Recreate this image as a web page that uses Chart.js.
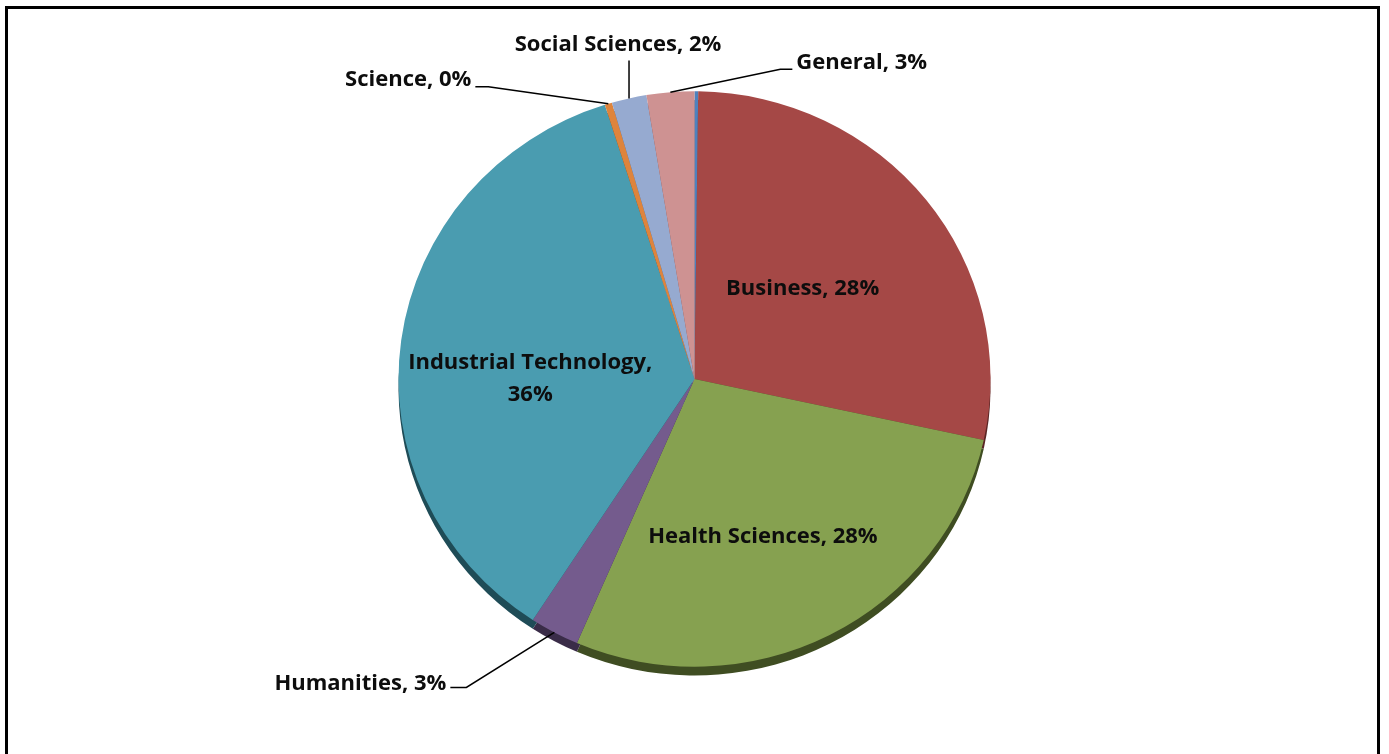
<!DOCTYPE html>
<html>
<head>
<meta charset="utf-8">
<script src="https://cdn.jsdelivr.net/npm/chart.js@4/dist/chart.umd.min.js"></script>
<style>
  html, body { margin: 0; padding: 0; background: #fff; }
  #wrap { position: relative; width: 1389px; height: 754px; overflow: hidden; }
  #frame { position: absolute; left: 5px; top: 6px; width: 1375px; height: 800px; border: 3px solid #000; box-sizing: border-box; }
  canvas { position: absolute; left: 0; top: 0; }
</style>
</head>
<body>
<div id="wrap">
  <div id="frame"></div>
  <canvas id="c" width="1389" height="754"></canvas>
</div>
<script>
const categories = ['Other', 'Business', 'Health Sciences', 'Humanities', 'Industrial Technology', 'Science', 'Social Sciences', 'General'];
const values = [0.2, 28.2, 28.1, 2.7, 35.9, 0.4, 1.9, 2.6];
const colors = ['#4F81BD', '#A54846', '#86A150', '#745B8D', '#4A9CB0', '#DE843C', '#96AAD0', '#CE9292'];
const shadeColors = ['#2c4a6e', '#5a2524', '#3f4d22', '#3a2c48', '#1f4c57', '#7a4a20', '#55607a', '#7a5454'];

// vertical squash of the pie (slightly elliptical, like the original tilted pie)
const squashY = 0.972;

// label layout: inside labels (frac along radius) and outside labels with leader lines
const labelLayout = {
  1: { type: 'in', frac: 0.48, dx: -3, dy: -4 },
  2: { type: 'in', frac: 0.58, dx: -10, dy: 9 },
  4: { type: 'in', frac: 0.56, dx: 0, dy: 21, lines: true },
  3: { type: 'out', path: [[-88, 55], [-104, 55]], align: 'right', tdy: -4 },
  5: { type: 'out', path: [[-120, -17], [-133, -17]], align: 'right', tdy: -7 },
  6: { type: 'out', path: [[0, -38]], align: 'center', tdx: -11, tdy: -16 },
  7: { type: 'out', path: [[110, -23], [122, -23]], align: 'left', tdy: -7 }
};

function pctText(i) {
  return Math.round(values[i]) + '%';
}

const shadowPlugin = {
  id: 'shadow3d',
  beforeDatasetsDraw(chart) {
    const ctx = chart.ctx;
    const meta = chart.getDatasetMeta(0);
    const a0 = meta.data[0].getProps(['x', 'y'], true);
    ctx.save();
    ctx.translate(a0.x, a0.y);
    ctx.scale(1, squashY);
    ctx.translate(-a0.x, -a0.y);
    meta.data.forEach((arc, i) => {
      const p = arc.getProps(['x', 'y', 'startAngle', 'endAngle', 'outerRadius'], true);
      ctx.beginPath();
      ctx.moveTo(p.x, p.y + 9);
      ctx.arc(p.x, p.y + 9, p.outerRadius, p.startAngle, p.endAngle);
      ctx.closePath();
      ctx.fillStyle = shadeColors[i];
      ctx.fill();
    });
  },
  afterDatasetsDraw(chart) {
    chart.ctx.restore();
  }
};

const labelPlugin = {
  id: 'pieLabels',
  afterDatasetsDraw(chart) {
    const ctx = chart.ctx;
    const meta = chart.getDatasetMeta(0);
    ctx.save();
    ctx.font = 'bold 22px "Open Sans", Lato, sans-serif';
    ctx.fillStyle = '#0d0d0d';
    ctx.strokeStyle = '#000';
    ctx.lineWidth = 1.5;
    meta.data.forEach((arc, i) => {
      const L = labelLayout[i];
      if (!L) return;
      const p = arc.getProps(['x', 'y', 'startAngle', 'endAngle', 'outerRadius'], true);
      const mid = (p.startAngle + p.endAngle) / 2;
      const text = categories[i] + ', ' + pctText(i);
      if (L.type === 'in') {
        const r = p.outerRadius * L.frac;
        const cx = p.x + Math.cos(mid) * r + L.dx;
        const cy = p.y + Math.sin(mid) * r * squashY + L.dy;
        ctx.textAlign = 'center';
        ctx.textBaseline = 'middle';
        if (L.lines) {
          ctx.fillText(categories[i] + ',', cx, cy - 16);
          ctx.fillText(pctText(i), cx, cy + 16);
        } else {
          ctx.fillText(text, cx, cy);
        }
      } else {
        const ax = p.x + Math.cos(mid) * p.outerRadius;
        const ay = p.y + Math.sin(mid) * p.outerRadius * squashY;
        ctx.beginPath();
        ctx.moveTo(ax, ay);
        let ex = ax, ey = ay;
        L.path.forEach(pt => { ex = ax + pt[0]; ey = ay + pt[1]; ctx.lineTo(ex, ey); });
        ctx.stroke();
        ctx.textBaseline = 'middle';
        ctx.textAlign = L.align;
        let tx = ex, ty = ey + (L.tdy || 0);
        if (L.align === 'right') tx = ex - 4;
        else if (L.align === 'left') tx = ex + 4;
        else tx = ex + (L.tdx || 0);
        ctx.fillText(text, tx, ty);
      }
    });
    ctx.restore();
  }
};

new Chart(document.getElementById('c'), {
  type: 'pie',
  data: {
    labels: categories,
    datasets: [{
      data: values,
      backgroundColor: colors,
      borderWidth: 0
    }]
  },
  options: {
    responsive: false,
    animation: false,
    layout: { padding: { top: 83, bottom: 79, left: 0, right: 0 } },
    plugins: {
      legend: { display: false },
      tooltip: { enabled: false }
    }
  },
  plugins: [shadowPlugin, labelPlugin]
});
</script>
</body>
</html>
